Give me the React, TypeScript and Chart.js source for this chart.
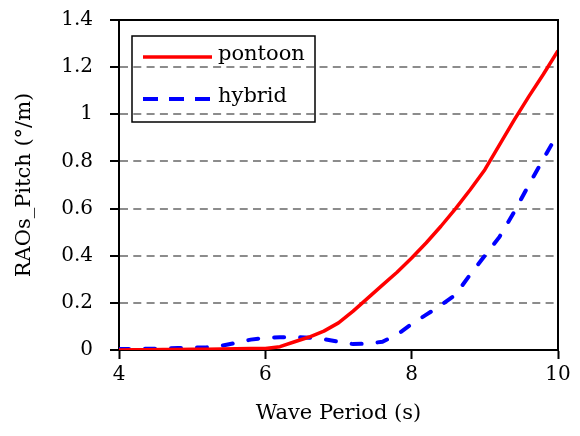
import { useEffect, useRef } from "react";
import { Chart, registerables } from "chart.js";

Chart.register(...registerables);

// Wave period samples (s)
const periods = [
  4.0, 4.2, 4.4, 4.6, 4.8, 5.0, 5.2, 5.4, 5.6, 5.8, 6.0, 6.2, 6.4, 6.6, 6.8, 7.0,
  7.2, 7.4, 7.6, 7.8, 8.0, 8.2, 8.4, 8.6, 8.8, 9.0, 9.2, 9.4, 9.6, 9.8, 10.0,
];

// Pitch RAO of the pontoon platform (deg/m)
const pontoon = [
  0.0, 0.001, 0.001, 0.002, 0.002, 0.003, 0.003, 0.004, 0.005, 0.006, 0.006,
  0.014, 0.035, 0.055, 0.08, 0.115, 0.165, 0.22, 0.275, 0.33, 0.39, 0.455, 0.525,
  0.6, 0.68, 0.765, 0.87, 0.975, 1.075, 1.17, 1.27,
];

// Pitch RAO of the hybrid platform (deg/m)
const hybrid = [
  0.004, 0.004, 0.005, 0.006, 0.008, 0.01, 0.012, 0.018, 0.03, 0.044, 0.052,
  0.054, 0.055, 0.052, 0.046, 0.035, 0.025, 0.027, 0.035, 0.065, 0.11, 0.15,
  0.19, 0.235, 0.32, 0.4, 0.48, 0.585, 0.7, 0.81, 0.92,
];

const seriesNames = ["pontoon", "hybrid"];
const xTicks = [4, 6, 8, 10];
const yTicks = [0, 0.2, 0.4, 0.6, 0.8, 1, 1.2, 1.4];

const FONT = "'DejaVu Serif', serif";
const HYBRID_DASH = [10, 16];

// Closes the plot frame on the top and right sides
const framePlugin = {
  id: "frame",
  afterDraw(chart: any) {
    const { ctx, chartArea: a } = chart;
    ctx.save();
    ctx.strokeStyle = "#000";
    ctx.lineWidth = 2;
    ctx.beginPath();
    ctx.moveTo(a.left, a.top);
    ctx.lineTo(a.right, a.top);
    ctx.lineTo(a.right, a.bottom);
    ctx.stroke();
    ctx.restore();
  },
};

// Boxed legend inside the upper-left corner of the plot
const boxLegendPlugin = {
  id: "boxLegend",
  afterDraw(chart: any) {
    const { ctx, chartArea: a } = chart;
    const x0 = a.left + 13;
    const y0 = a.top + 16;
    const w = 183;
    const h = 86;
    ctx.save();
    ctx.strokeStyle = "#000";
    ctx.lineWidth = 1.5;
    ctx.strokeRect(x0, y0, w, h);
    ctx.font = `21px ${FONT}`;
    ctx.textBaseline = "middle";
    ctx.fillStyle = "#000";
    chart.data.datasets.forEach((ds: any, i: number) => {
      const y = y0 + 21 + i * 42;
      ctx.beginPath();
      ctx.strokeStyle = ds.borderColor;
      ctx.lineWidth = ds.borderWidth;
      ctx.lineCap = "butt";
      ctx.setLineDash(i === 1 ? [15, 11] : []);
      ctx.moveTo(x0 + 11, y);
      ctx.lineTo(x0 + 80, y);
      ctx.stroke();
      ctx.setLineDash([]);
      ctx.fillText(ds.label, x0 + 86, y - 2);
    });
    ctx.restore();
  },
};

export default function App() {
  const canvasRef = useRef<HTMLCanvasElement | null>(null);

  useEffect(() => {
    if (!canvasRef.current) return;
    const chart = new Chart(canvasRef.current, {
      type: "line",
      data: {
        datasets: [
          {
            label: seriesNames[0],
            data: periods.map((t, i) => ({ x: t, y: pontoon[i] })),
            borderColor: "#ff0000",
            borderWidth: 3.5,
            pointRadius: 0,
            tension: 0,
            borderJoinStyle: "round",
          },
          {
            label: seriesNames[1],
            data: periods.map((t, i) => ({ x: t, y: hybrid[i] })),
            borderColor: "#0000ff",
            borderWidth: 4,
            borderDash: HYBRID_DASH,
            borderCapStyle: "round",
            pointRadius: 0,
            tension: 0,
          },
        ],
      },
      options: {
        animation: false,
        responsive: false,
        maintainAspectRatio: false,
        events: [],
        layout: { padding: { top: 20, right: 22, left: 0, bottom: 0 } },
        plugins: {
          legend: { display: false },
          tooltip: { enabled: false },
        },
        scales: {
          x: {
            type: "linear",
            min: 4,
            max: 10,
            afterBuildTicks: (s: any) => {
              s.ticks = xTicks.map((v) => ({ value: v }));
            },
            afterFit: (s: any) => {
              s.height = 86;
            },
            ticks: {
              color: "#000",
              font: { family: FONT, size: 20 },
              padding: 4,
              maxRotation: 0,
              callback: (v: any) => String(v),
            },
            grid: {
              drawOnChartArea: false,
              tickLength: 9,
              tickColor: "#000",
              tickWidth: 2,
            },
            border: { color: "#000", width: 2 },
            title: {
              display: true,
              text: "Wave Period (s)",
              color: "#000",
              font: { family: FONT, size: 21 },
              padding: { top: 0, bottom: 10 },
            },
          },
          y: {
            type: "linear",
            min: 0,
            max: 1.4,
            afterBuildTicks: (s: any) => {
              s.ticks = yTicks.map((v) => ({ value: v }));
            },
            afterFit: (s: any) => {
              s.width = 119;
              s.paddingTop = 10;
              s.paddingBottom = 10;
            },
            ticks: {
              color: "#000",
              font: { family: FONT, size: 20 },
              padding: 17,
              callback: (v: any) => String(Number(Number(v).toFixed(1))),
            },
            grid: {
              color: (c: any) =>
                c.tick && (c.tick.value === 0 || c.tick.value === 1.4)
                  ? "rgba(0,0,0,0)"
                  : "#8c8c8c",
              lineWidth: 2,
              tickLength: 9,
              tickColor: "#000",
              tickWidth: 2,
              tickBorderDash: [],
            },
            border: { color: "#000", width: 2, dash: [8, 5.3] },
            title: {
              display: true,
              text: "RAOs_Pitch (°/m)",
              color: "#000",
              font: { family: FONT, size: 21 },
              padding: { top: 12, bottom: 0 },
            },
          },
        },
      },
      plugins: [framePlugin, boxLegendPlugin],
    } as any);
    return () => chart.destroy();
  }, []);

  return (
    <div style={{ position: "fixed", left: 0, top: 0, width: 580, height: 436, background: "#fff" }}>
      <canvas ref={canvasRef} width={580} height={436} style={{ display: "block" }} />
    </div>
  );
}
